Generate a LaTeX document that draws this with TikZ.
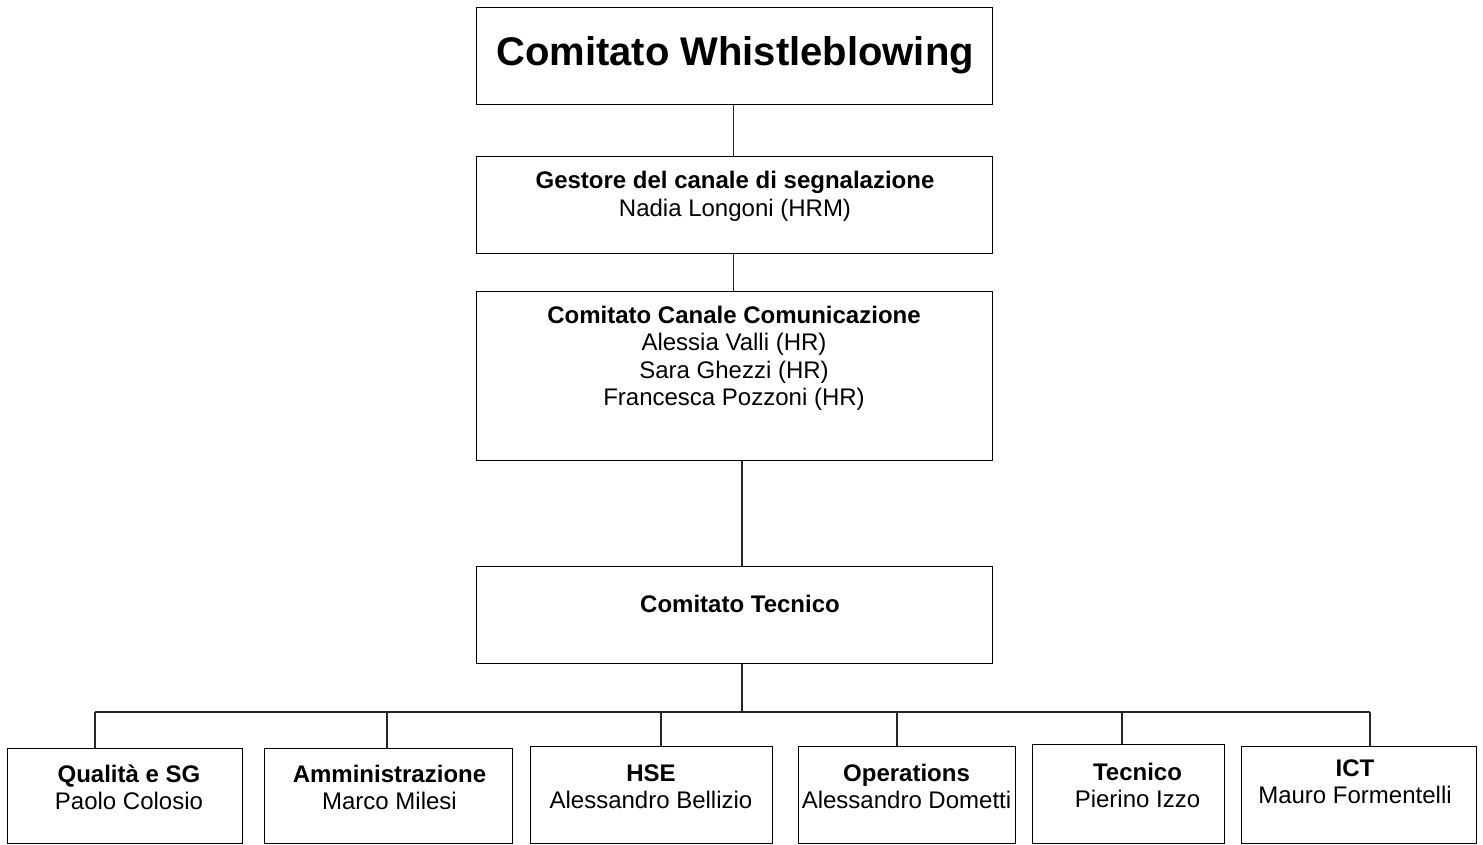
\documentclass[tikz,border=0pt]{standalone}
\usepackage{fontspec}
\setmainfont{Liberation Sans}
\newcommand{\lines}[1]{\begin{tabular}[t]{@{}c@{}}#1\end{tabular}}
\begin{document}
\begin{tikzpicture}[x=1pt,y=-1pt,
  box/.style={draw=black,line width=1.1pt,rectangle,inner sep=0pt,anchor=north west},
  conn/.style={draw=black!85,line width=1.1pt},
  txt/.style={inner sep=0pt,anchor=base,font=\fontsize{24}{27.6}\selectfont},
  big/.style={inner sep=0pt,anchor=base,font=\fontsize{40}{46}\selectfont\bfseries}]
\useasboundingbox (0,0) rectangle (1483,844);
% boxes
\node[box,minimum width=516pt,minimum height=97pt] (ws) at (476,7) {};
\node[box,minimum width=516pt,minimum height=97pt] (gest) at (476,156) {};
\node[box,minimum width=516pt,minimum height=169pt] (can) at (476,291) {};
\node[box,minimum width=516pt,minimum height=97pt] (tec) at (476,566) {};
\node[box,minimum width=235pt,minimum height=95pt] (q) at (7,748) {};
\node[box,minimum width=248pt,minimum height=95pt] (amm) at (264,748) {};
\node[box,minimum width=242pt,minimum height=97pt] (hse) at (530,746) {};
\node[box,minimum width=217pt,minimum height=97pt] (ops) at (798,746) {};
\node[box,minimum width=192pt,minimum height=99pt] (tcn) at (1032,744) {};
\node[box,minimum width=235pt,minimum height=97pt] (ict) at (1241,746) {};
% texts
\node[big] (wsT) at (735,65) {Comitato Whistleblowing};
\node[txt] (gestT) at (735,188.5) {\lines{\textbf{Gestore del canale di segnalazione}\\Nadia Longoni (HRM)}};
\node[txt] (canT) at (734,323) {\lines{\textbf{Comitato Canale Comunicazione}\\Alessia Valli (HR)\\Sara Ghezzi (HR)\\Francesca Pozzoni (HR)}};
\node[txt] (tecT) at (740,612) {\textbf{Comitato Tecnico}};
\node[txt] (qT) at (129,782) {\lines{\textbf{Qualità e SG}\\Paolo Colosio}};
\node[txt] (ammT) at (389.5,782) {\lines{\textbf{Amministrazione}\\Marco Milesi}};
\node[txt] (hseT) at (651,781) {\lines{\textbf{HSE}\\Alessandro Bellizio}};
\node[txt] (opsT) at (906.5,781) {\lines{\textbf{Operations}\\Alessandro Dometti}};
\node[txt] (tcnT) at (1137.5,780) {\lines{\textbf{Tecnico}\\Pierino Izzo}};
\node[txt] (ictT) at (1355,776) {\lines{\textbf{ICT}\\Mauro Formentelli}};
% connector points
\coordinate (top) at (733.5,0);
\coordinate (trunk) at (742,712);
\coordinate (d1) at (95,712);
\coordinate (d2) at (387,712);
\coordinate (d3) at (661,712);
\coordinate (d4) at (897,712);
\coordinate (d5) at (1122,712);
\coordinate (d6) at (1370,712);
% connectors
\draw[conn] (ws.south -| top) -- (gest.north -| top);
\draw[conn] (gest.south -| top) -- (can.north -| top);
\draw[conn] (can.south -| trunk) -- (tec.north -| trunk);
\draw[conn] (tec.south -| trunk) -- (trunk);
\draw[conn] (d1) -- (d6);
\draw[conn] (d1) -- (d1 |- q.north);
\draw[conn] (d2) -- (d2 |- amm.north);
\draw[conn] (d3) -- (d3 |- hse.north);
\draw[conn] (d4) -- (d4 |- ops.north);
\draw[conn] (d5) -- (d5 |- tcn.north);
\draw[conn] (d6) -- (d6 |- ict.north);
\end{tikzpicture}
\end{document}
